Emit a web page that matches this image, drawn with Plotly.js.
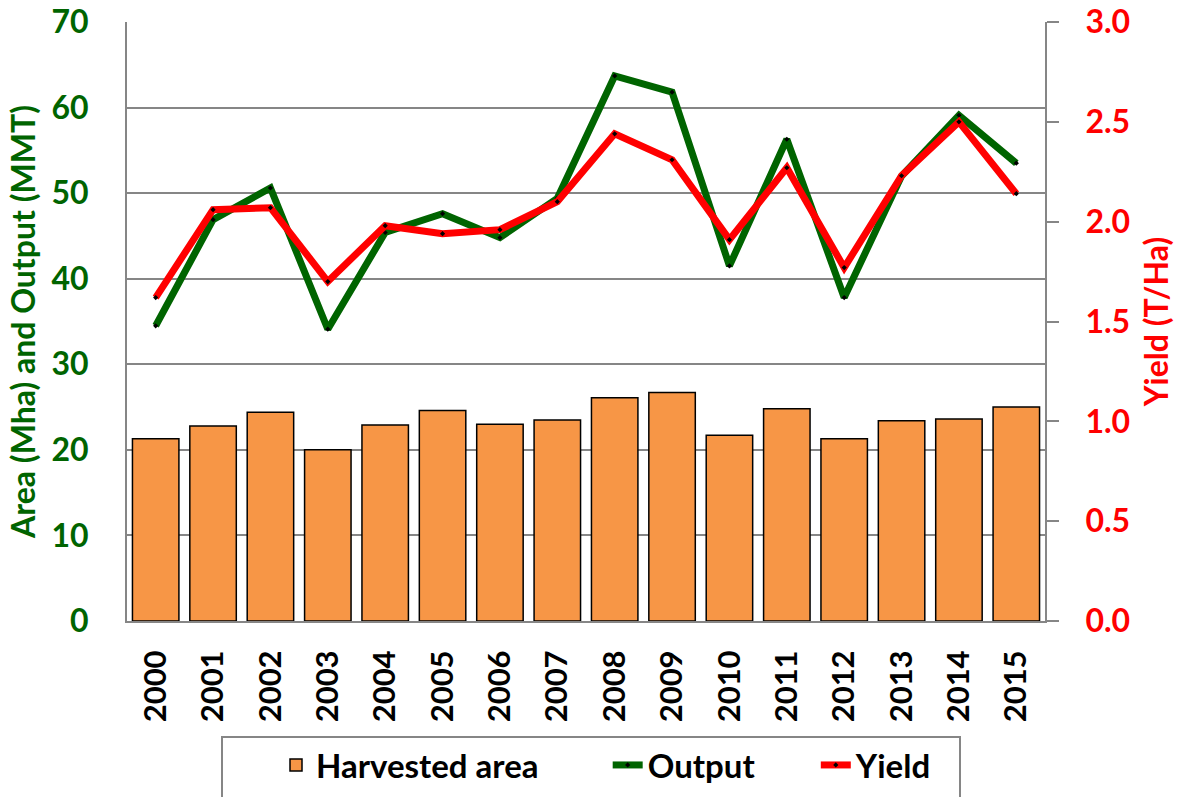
<!DOCTYPE html>
<html>
<head>
<meta charset="utf-8">
<script src="https://cdn.plot.ly/plotly-3.0.1.min.js"></script>
<style>html,body{margin:0;padding:0;background:#fff;}#chart{width:1186px;height:797px;}</style>
</head>
<body>
<div id="chart"></div>
<script>
const years = ['2000','2001','2002','2003','2004','2005','2006','2007','2008','2009','2010','2011','2012','2013','2014','2015'];
const harvestedArea = [21.3, 22.8, 24.4, 20.0, 22.9, 24.6, 23.0, 23.5, 26.1, 26.7, 21.7, 24.8, 21.3, 23.4, 23.6, 25.0];
const output = [34.5, 46.9, 50.6, 34.1, 45.4, 47.6, 44.8, 49.4, 63.7, 61.8, 41.5, 56.3, 37.8, 52.0, 59.1, 53.5];
const yieldTHa = [1.62, 2.06, 2.07, 1.70, 1.98, 1.94, 1.96, 2.10, 2.44, 2.31, 1.91, 2.27, 1.77, 2.23, 2.50, 2.14];
const seriesNames = ['Harvested area', 'Output', 'Yield'];

const FONT = 'Lato, "Open Sans", "DejaVu Sans", sans-serif';
const GREEN = '#006400';
const RED = '#FF0000';
const GRID = '#868686';
const NB = '\u00A0';

const traces = [
  {
    type: 'bar', name: seriesNames[0] + NB.repeat(8), x: years, y: harvestedArea,
    marker: {color: '#F79646', line: {color: '#000000', width: 1.5}},
    yaxis: 'y'
  },
  {
    type: 'scatter', mode: 'lines+markers', name: seriesNames[1] + NB.repeat(7), x: years, y: output,
    line: {color: GREEN, width: 7},
    marker: {color: '#000000', size: 4, symbol: 'diamond'},
    yaxis: 'y'
  },
  {
    type: 'scatter', mode: 'lines+markers', name: seriesNames[2], x: years, y: yieldTHa,
    line: {color: RED, width: 7},
    marker: {color: '#000000', size: 4, symbol: 'diamond'},
    yaxis: 'y2'
  }
];

const layout = {
  width: 1186, height: 797,
  margin: {l: 127, r: 141, t: 22, b: 176},
  paper_bgcolor: '#ffffff', plot_bgcolor: '#ffffff',
  font: {family: FONT, color: '#000000'},
  bargap: 0.19,
  showlegend: true,
  legend: {
    orientation: 'h',
    xref: 'container', yref: 'container',
    x: 276 / 1186, xanchor: 'left',
    y: 1 - 737 / 797, yanchor: 'top',
    font: {family: FONT, size: 33, color: '#000000', weight: 'bold'},
    borderwidth: 0, bgcolor: 'rgba(0,0,0,0)',
    traceorder: 'normal'
  },
  shapes: [{
    type: 'rect', xref: 'paper', yref: 'paper',
    x0: (222 - 127) / 918, x1: (960 - 127) / 918,
    y0: (621 - 737) / 599, y1: -0.40,
    line: {color: GRID, width: 2}, fillcolor: 'rgba(0,0,0,0)', layer: 'above'
  }],
  xaxis: {
    type: 'category',
    range: [-0.5, 15.5],
    tickangle: -90,
    tickfont: {family: FONT, size: 31, color: '#000000', weight: 'bold'},
    ticks: 'outside', ticklen: 15, tickcolor: 'rgba(0,0,0,0)',
    showline: true, linecolor: GRID, linewidth: 2,
    showgrid: false, mirror: false
  },
  yaxis: {
    range: [0, 70], dtick: 10, tick0: 0,
    showgrid: true, gridcolor: GRID, gridwidth: 2,
    showline: true, linecolor: GRID, linewidth: 2,
    ticks: 'outside', ticklen: 30, tickcolor: 'rgba(0,0,0,0)', zeroline: false,
    tickfont: {family: FONT, size: 32, color: GREEN, weight: 'bold'},
    title: {text: 'Area (Mha) and Output (MMT)', font: {family: FONT, size: 32, color: GREEN, weight: 'bold'}, standoff: 6}
  },
  yaxis2: {
    overlaying: 'y', side: 'right',
    range: [0, 3], dtick: 0.5, tick0: 0, tickformat: '.1f',
    showgrid: false, zeroline: false,
    showline: true, linecolor: GRID, linewidth: 2,
    ticks: 'outside', ticklen: 12, tickcolor: GRID, tickwidth: 2,
    tickfont: {family: FONT, size: 32, color: RED, weight: 'bold'},
    ticklabelstandoff: 20,
    title: {text: 'Yield (T/Ha)', font: {family: FONT, size: 32, color: RED, weight: 'bold'}, standoff: 16}
  }
};

Plotly.newPlot('chart', traces, layout, {displayModeBar: false, staticPlot: true});
</script>
</body>
</html>
